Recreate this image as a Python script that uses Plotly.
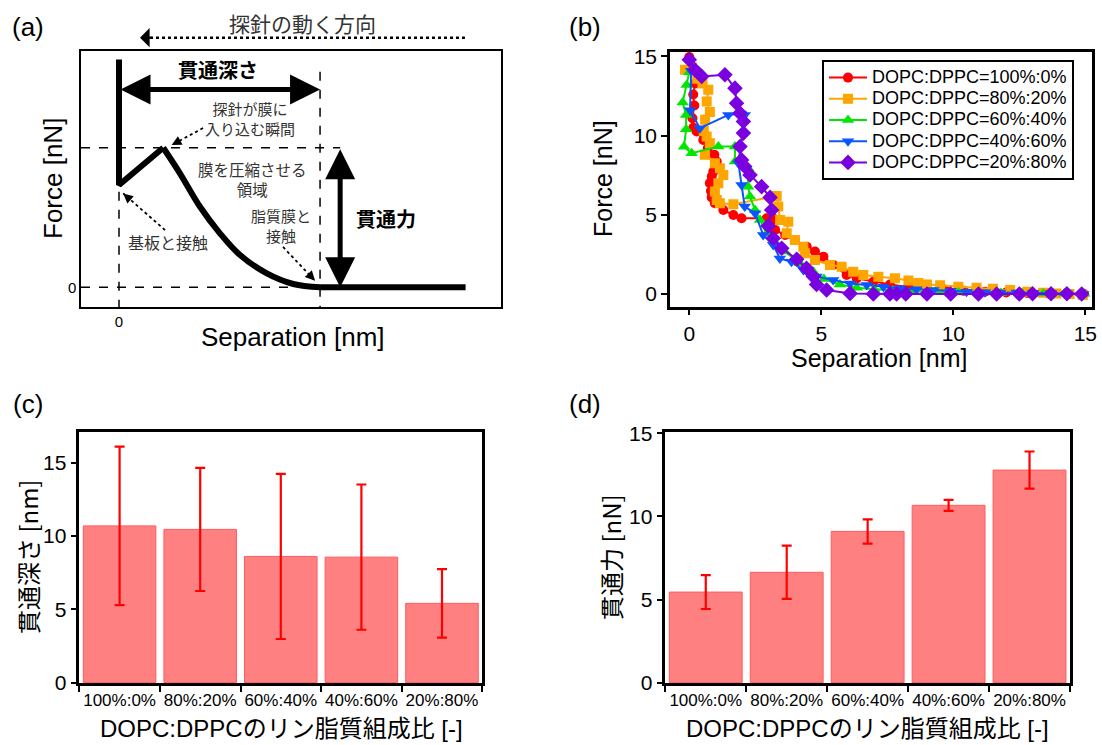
import plotly.graph_objects as go

W, H = 1102, 745


def fx(p):
    return p / W


def fy(p):
    return 1 - p / H


FONT = "Liberation Sans, Arial, Noto Sans CJK JP, sans-serif"
JFONT = "Noto Sans CJK JP, Liberation Sans, sans-serif"

# ---------------- (a) schematic (arbitrary units: depth = 10, force = 10) ----------------
jump_x = [0, 0, 2.2]
jump_y = [16.33, 7.33, 10]
compress_x = [2.2, 3.03, 4.03, 5.02, 6.02, 7.35, 8.67, 10]
compress_y = [10, 8.17, 5.77, 3.87, 2.31, 1.0, 0.24, 0]
approach_x = [10, 17.24]
approach_y = [0, 0]
A_XRANGE = [-1.89, 19.0]
A_YRANGE = [-1.43, 16.93]

# ---------------- (b) force curves ----------------
red_x = [0.0, 0.15, 0.22, 0.15, 0.19, 0.12, 0.15, 0.28, 0.53, 0.7, 0.95, 1.04, 0.91, 0.85, 0.78, 0.82, 0.85,
         0.97, 1.29, 1.67, 1.98, 2.93, 3.18, 3.25, 3.63, 4.0, 4.45, 4.76, 5.08, 5.45, 5.96, 6.34, 6.97, 7.6,
         8.3, 9.0, 9.7, 10.4, 11.2, 12.0, 12.8, 13.6, 14.3, 14.95]
red_y = [14.96, 14.16, 13.3, 12.6, 11.9, 11.1, 10.5, 10.26, 9.73, 9.2, 8.79, 8.36, 7.73, 7.42, 7.0, 6.5, 6.1,
         5.73, 5.31, 4.99, 4.78, 4.78, 4.78, 4.05, 3.73, 3.41, 2.99, 2.68, 2.36, 1.83, 1.2, 0.99, 0.78, 0.6,
         0.45, 0.35, 0.27, 0.2, 0.14, 0.1, 0.06, 0.03, 0.01, 0.0]

orange_x = [-0.16, 0.1, 0.3, 0.5, 0.72, 0.66, 0.78, 0.6, 0.55, 0.66, 0.78, 0.59, 0.97, 1.16, 1.29, 1.1, 0.97,
            1.04, 1.16, 1.67, 3.31, 3.37, 3.44, 3.75, 3.69, 4.0, 4.32, 4.38, 4.76, 5.33, 5.77, 6.21, 6.59,
            7.16, 7.79, 8.3, 8.67, 9.0, 9.5, 10.19, 10.88, 11.5, 12.15, 12.8, 13.4, 13.9, 14.4, 14.9]
orange_y = [14.16, 14.3, 13.6, 13.3, 12.9, 12.16, 11.5, 11.0, 10.3, 9.95, 9.52, 8.79, 8.26, 7.94, 7.52, 7.0,
            6.47, 5.94, 5.73, 5.67, 6.19, 5.52, 4.68, 4.57, 3.84, 3.41, 2.99, 2.57, 2.15, 1.83, 1.73, 1.41,
            1.2, 1.09, 0.99, 0.85, 0.7, 0.6, 0.55, 0.46, 0.4, 0.33, 0.25, 0.15, 0.08, 0.03, 0.0, -0.06]

green_x = [0.0, -0.1, -0.25, -0.12, -0.12, -0.2, 0.09, 1.1, 1.73, 1.73, 2.23, 2.23, 2.3, 2.49, 2.68, 2.93,
           3.18, 3.62, 4.19, 4.7, 5.1, 5.7, 6.34, 7.0, 7.7, 8.5, 9.3, 10.2, 11.0, 11.8, 12.6, 13.4, 14.2, 14.95]
green_y = [14.0, 13.2, 12.1, 11.3, 10.4, 9.3, 8.89, 9.31, 9.31, 8.36, 7.94, 6.78, 6.15, 5.31, 4.68, 3.83,
           3.41, 2.68, 1.94, 1.41, 0.95, 0.6, 0.4, 0.3, 0.22, 0.17, 0.13, 0.1, 0.08, 0.06, 0.05, 0.04, 0.03, 0.02]

blue_x = [0.07, 0.03, 0.4, 1.48, 1.95, 2.1, 1.86, 1.98, 2.1, 2.49, 2.8, 3.18, 3.43, 3.87, 4.32, 4.82, 5.45,
          6.09, 6.72, 7.35, 7.98, 8.6, 9.24, 9.9, 10.5, 11.2, 11.77, 12.4, 13.03, 13.7, 14.3, 14.92]
blue_y = [14.1, 11.6, 10.47, 11.31, 11.4, 11.3, 8.26, 6.89, 5.52, 5.1, 3.73, 3.1, 2.25, 2.04, 1.52, 1.1, 0.88,
          0.67, 0.57, 0.46, 0.36, 0.3, 0.25, 0.2, 0.15, 0.12, 0.1, 0.09, 0.08, 0.06, 0.04, 0.0]

purple_x = [0.0, 0.21, 0.47, 1.35, 1.73, 1.79, 1.92, 2.05, 2.05, 1.92, 1.98, 2.1, 2.3, 2.74, 3.06, 3.12, 2.99,
            3.18, 3.5, 4.07, 4.44, 4.7, 4.82, 5.2, 6.09, 6.97, 7.6, 7.85, 8.2, 9.0, 9.9, 10.95, 11.64, 12.5,
            13.0, 13.7, 14.3, 14.86]
purple_y = [14.79, 14.16, 13.74, 13.84, 13.0, 12.05, 11.42, 10.89, 10.16, 9.31, 8.47, 8.05, 7.52, 6.78, 6.1,
            5.31, 4.3, 3.52, 2.89, 2.2, 1.62, 1.1, 0.6, 0.25, 0.04, 0.0, 0.0, 0.0, 0.0, 0.0, 0.0, 0.0, 0.0, 0.0,
            0.02, 0.02, 0.02, 0.0]

series_names = ["DOPC:DPPC=100%:0%", "DOPC:DPPC=80%:20%", "DOPC:DPPC=60%:40%",
                "DOPC:DPPC=40%:60%", "DOPC:DPPC=20%:80%"]

# ---------------- (c), (d) bars ----------------
ratios = ["100%:0%", "80%:20%", "60%:40%", "40%:60%", "20%:80%"]
depth = [10.68, 10.44, 8.6, 8.55, 5.4]
depth_err = [5.4, 4.2, 5.63, 4.95, 2.33]
force = [5.45, 6.64, 9.1, 10.67, 12.79]
force_err = [1.02, 1.6, 0.73, 0.33, 1.12]

fig = go.Figure()

# ---- panel (a) traces ----
thick = dict(color="black", width=6)
fig.add_trace(go.Scatter(x=jump_x, y=jump_y, mode="lines", line=thick, xaxis="x", yaxis="y",
                         showlegend=False, hoverinfo="skip"))
fig.add_trace(go.Scatter(x=compress_x, y=compress_y, mode="lines", line=dict(thick, shape="spline"),
                         xaxis="x", yaxis="y", showlegend=False, hoverinfo="skip"))
fig.add_trace(go.Scatter(x=approach_x, y=approach_y, mode="lines", line=thick, xaxis="x", yaxis="y",
                         showlegend=False, hoverinfo="skip"))

# dotted pointer lines (tail -> tip) in schematic units
pointers = [((4.18, 11.41), (2.62, 10.19)),
            ((2.29, 4.10), (0.21, 6.73)),
            ((8.16, 2.89), (9.75, 0.47))]
for (tx, ty), (hx, hy) in pointers:
    fig.add_trace(go.Scatter(x=[tx, hx], y=[ty, hy], mode="lines",
                             line=dict(color="black", width=1.8, dash="dot"),
                             xaxis="x", yaxis="y", showlegend=False, hoverinfo="skip"))

# ---- panel (b) traces ----
colors = ["#ff0000", "#ffa500", "#00e600", "#0a55ff", "#7a00e0"]
symbols = ["circle", "square", "triangle-up", "triangle-down", "diamond"]
sizes = [10, 10, 11, 11, 12]
xs = [red_x, orange_x, green_x, blue_x, purple_x]
ys = [red_y, orange_y, green_y, blue_y, purple_y]
for name, x, y, c, s, sz in zip(series_names, xs, ys, colors, symbols, sizes):
    fig.add_trace(go.Scatter(x=x, y=y, name='<span style="font-size:18px">' + name + '</span>',
                             mode="lines+markers",
                             line=dict(color=c, width=2),
                             marker=dict(color=c, symbol=s, size=sz, line=dict(width=0)),
                             xaxis="x2", yaxis="y2"))

# ---- panel (c), (d) bars ----
bar_marker = dict(color="#ff8080", line=dict(color="#ff5c5c", width=1))
fig.add_trace(go.Bar(x=ratios, y=depth, marker=bar_marker, xaxis="x3", yaxis="y3", showlegend=False,
                     error_y=dict(type="data", array=depth_err, color="#ff0000", thickness=2.2, width=5)))
fig.add_trace(go.Bar(x=ratios, y=force, marker=bar_marker, xaxis="x4", yaxis="y4", showlegend=False,
                     error_y=dict(type="data", array=force_err, color="#ff0000", thickness=2.2, width=5)))

frame = dict(showline=True, linecolor="black", mirror=True, showgrid=False, zeroline=False, automargin=False)
tick_style = dict(ticks="outside", ticklen=6, tickwidth=2, tickcolor="black")

layout = dict(
    template="none", autosize=False,
    width=W, height=H, margin=dict(l=0, r=0, t=0, b=0, pad=0),
    paper_bgcolor="white", plot_bgcolor="white",
    font=dict(family=FONT, color="black"),
    bargap=0.1,
    showlegend=True,
    legend=dict(x=fx(822), y=fy(60), xanchor="left", yanchor="top", itemwidth=38,
                bgcolor="white", bordercolor="black", borderwidth=2,
                font=dict(size=14, family=FONT, color="black"), tracegroupgap=0),
    # (a)
    xaxis=dict(frame, linewidth=1.5, domain=[fx(81), fx(501)], range=A_XRANGE, tickvals=[0], ticktext=["0"],
               ticks="", tickfont=dict(size=15), anchor="y", fixedrange=True),
    yaxis=dict(frame, linewidth=1.5, domain=[fy(307.3), fy(51)], range=A_YRANGE, tickvals=[0], ticktext=["0"],
               ticks="", tickfont=dict(size=15), anchor="x", fixedrange=True),
    # (b)
    xaxis2=dict(frame, **tick_style, linewidth=2.5, domain=[fx(670), fx(1091.7)], range=[-0.73, 15.24],
                tickvals=[0, 5, 10, 15], tickfont=dict(size=21), anchor="y2"),
    yaxis2=dict(frame, **tick_style, linewidth=2.5, domain=[fy(306.7), fy(51.7)], range=[-0.80, 15.3],
                tickvals=[0, 5, 10, 15], tickfont=dict(size=21), anchor="x2"),
    # (c)
    xaxis3=dict(frame, **tick_style, linewidth=2.5, domain=[fx(79.3), fx(482.3)], type="category",
                tickson="boundaries", tickangle=0, tickfont=dict(size=17), anchor="y3"),
    yaxis3=dict(frame, **tick_style, linewidth=2.5, domain=[fy(683.3), fy(431.7)], range=[-0.05, 17.1],
                tickvals=[0, 5, 10, 15], tickfont=dict(size=21), anchor="x3"),
    # (d)
    xaxis4=dict(frame, **tick_style, linewidth=2.5, domain=[fx(665.3), fx(1070)], type="category",
                tickson="boundaries", tickangle=0, tickfont=dict(size=17), anchor="y4"),
    yaxis4=dict(frame, **tick_style, linewidth=2.5, domain=[fy(683.3), fy(431.7)], range=[-0.04, 15.1],
                tickvals=[0, 5, 10, 15], tickfont=dict(size=21), anchor="x4"),
)
fig.update_layout(**layout)

ann = []


def text(x, y, t, size, family=FONT, color="black", angle=0):
    ann.append(dict(x=fx(x), y=fy(y), xref="paper", yref="paper", text=t, showarrow=False,
                    font=dict(size=size, family=family, color=color), textangle=angle,
                    xanchor="center", yanchor="middle"))


# panel letters
text(28, 27, "(a)", 26)
text(585, 27, "(b)", 26)
text(28, 404, "(c)", 26)
text(585, 404, "(d)", 26)

# axis titles
text(53, 179, "Force [nN]", 26, angle=-90)
text(293, 337, "Separation [nm]", 26)
text(603, 179, "Force [nN]", 25, angle=-90)
text(880, 358, "Separation [nm]", 25)
text(27, 557, "貫通深さ [nm]", 24, family=JFONT, angle=-90)
text(281, 728, "DOPC:DPPCのリン脂質組成比 [-]", 24, family=FONT)
text(610, 557, "貫通力 [nN]", 24, family=JFONT, angle=-90)
text(867, 728, "DOPC:DPPCのリン脂質組成比 [-]", 24, family=FONT)

# panel (a) labels
grey = "#333333"
text(302, 23, "探針の動く方向", 21, family=JFONT, color=grey)
text(218, 70, "<b>貫通深さ</b>", 20, family=JFONT)
text(250, 118, "探針が膜に<br>入り込む瞬間", 15, family=JFONT, color=grey)
text(252, 179, "膜を圧縮させる<br>領域", 15.5, family=JFONT, color=grey)
text(281, 225, "脂質膜と<br>接触", 15, family=JFONT, color=grey)
text(168, 242, "基板と接触", 16, family=JFONT, color=grey)
text(386, 218, "<b>貫通力</b>", 20, family=JFONT)

# double arrows (schematic units)
ann.append(dict(x=10, y=14.18, ax=0, ay=14.18, xref="x", yref="y", axref="x", ayref="y", text="",
                showarrow=True, arrowhead=2, startarrowhead=2, arrowside="end+start", arrowwidth=5,
                arrowsize=1.2, startarrowsize=1.2, arrowcolor="black"))
ann.append(dict(x=11.0, y=0, ax=11.0, ay=10, xref="x", yref="y", axref="x", ayref="y", text="",
                showarrow=True, arrowhead=2, startarrowhead=2, arrowside="end+start", arrowwidth=5,
                arrowsize=1.2, startarrowsize=1.2, arrowcolor="black"))
# heads of dotted pointers
for (tx, ty), (hx, hy) in pointers:
    ann.append(dict(x=hx, y=hy, ax=hx + 0.15 * (tx - hx), ay=hy + 0.15 * (ty - hy), xref="x", yref="y",
                    axref="x", ayref="y", text="", showarrow=True, arrowhead=2, arrowwidth=1.5,
                    arrowsize=1.3, arrowcolor="black"))
# top direction arrow head
ann.append(dict(x=fx(140), y=fy(37.7), xref="paper", yref="paper", ax=14, ay=0, text="", showarrow=True,
                arrowhead=1, arrowwidth=2, arrowsize=1.6, arrowcolor="black"))

fig.update_layout(annotations=ann)

shapes = []
dash = dict(color="black", width=1.5, dash="dash")
shapes.append(dict(type="line", xref="x", yref="y", x0=A_XRANGE[0], x1=11.0, y0=10, y1=10, line=dash))
shapes.append(dict(type="line", xref="x", yref="y", x0=A_XRANGE[0], x1=10, y0=0, y1=0, line=dash))
shapes.append(dict(type="line", xref="x", yref="y", x0=0, x1=0, y0=6.85, y1=A_YRANGE[0], line=dash))
shapes.append(dict(type="line", xref="x", yref="y", x0=10, x1=10, y0=15.44, y1=A_YRANGE[0], line=dash))
shapes.append(dict(type="line", xref="paper", yref="paper", x0=fx(150), x1=fx(465), y0=fy(37.7), y1=fy(37.7),
                   line=dict(color="black", width=2.5, dash="dot")))
fig.update_layout(shapes=shapes)

fig.write_html("out.html", config={"displayModeBar": False},
               post_script="document.body.style.margin='0';")
